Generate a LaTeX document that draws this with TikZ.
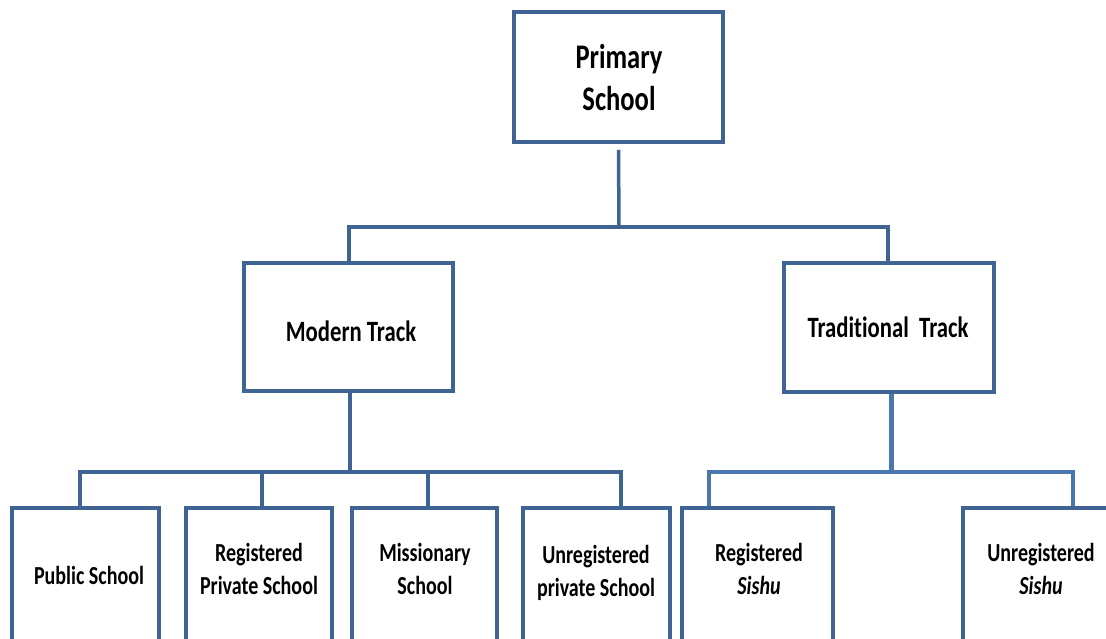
\documentclass[tikz,border=0pt]{standalone}
\usepackage{fontspec}
\setmainfont{Carlito}[FakeStretch=0.77, Ligatures=NoCommon]
\definecolor{boxc}{HTML}{3F6392}
\definecolor{connc}{HTML}{4A78AE}
\begin{document}
\begin{tikzpicture}[x=1pt,y=-1pt,
  box/.style={draw=boxc, line width=3.8pt, rectangle, inner sep=0pt},
  conn/.style={draw=boxc, line width=3.5pt},
  tconn/.style={draw=connc, line width=3.2pt},
  lbl/.style={align=center, inner sep=0pt, font=\fontsize{26}{32.5}\selectfont\bfseries},
  mlbl/.style={align=center, inner sep=0pt, font=\fontsize{29.5}{34}\selectfont\bfseries},
  plbl/.style={align=center, inner sep=0pt, font=\fontsize{34.5}{42}\selectfont\bfseries}]
\useasboundingbox (0,0) rectangle (1106,639);
\clip (0,0) rectangle (1106,639);
% boxes
\node[box, minimum width=209pt, minimum height=130pt] (p) at (618.5,77) {};
\node[box, minimum width=209pt, minimum height=128pt] (mt) at (348.5,327) {};
\node[box, minimum width=210pt, minimum height=129pt] (tt) at (889,327.5) {};
\node[box, minimum width=147pt, minimum height=140pt] (b1) at (85.5,578) {};
\node[box, minimum width=146pt, minimum height=140pt] (b2) at (259,578) {};
\node[box, minimum width=145pt, minimum height=140pt] (b3) at (424.5,578) {};
\node[box, minimum width=147pt, minimum height=140pt] (b4) at (596.5,578) {};
\node[box, minimum width=151pt, minimum height=140pt] (b5) at (757.5,578) {};
\node[box, minimum width=147pt, minimum height=140pt] (b6) at (1036.5,578) {};
% labels
\node[plbl] (tp) at (619,78) {Primary\\School};
\node[mlbl] (tm) at (351,331) {Modern Track};
\node[mlbl] (tt2) at (888,327) {Traditional\ \ Track};
\node[lbl] (t1) at (89,575) {Public School};
\node[lbl] (t2) at (259,569) {Registered\\Private School};
\node[lbl] (t3) at (425,569) {Missionary\\School};
\node[lbl] (t4) at (596,573) {Unregistered\\private School};
\node[lbl] (t5) at (759,569) {Registered\\\itshape Sishu};
\node[lbl] (t6) at (1041,569) {Unregistered\\\itshape Sishu};
% connectors
\coordinate (j1) at (619,227);
\draw[conn] ([yshift=-6pt]p.south) -- (j1);
\draw[conn] (j1) -| ([xshift=0.5pt]mt.north);
\draw[conn] (j1) -| ([xshift=-1pt]tt.north);
\coordinate (j2) at (350,472);
\draw[conn] ([xshift=1.5pt]mt.south) -- (j2);
\draw[conn] (j2) -| ([xshift=-5.5pt]b1.north);
\draw[conn] (j2) -| ([xshift=3pt]b2.north);
\draw[conn] (j2) -| ([xshift=3.5pt]b3.north);
\draw[conn] (j2) -| ([xshift=24.5pt]b4.north);
\coordinate (j3) at (891,472);
\draw[tconn, line width=5pt] ([xshift=2pt]tt.south) -- ([yshift=-1.5pt]j3);
\draw[tconn] (j3) -| ([xshift=-48.5pt]b5.north);
\draw[tconn] (j3) -| ([xshift=36.5pt]b6.north);
\end{tikzpicture}
\end{document}
